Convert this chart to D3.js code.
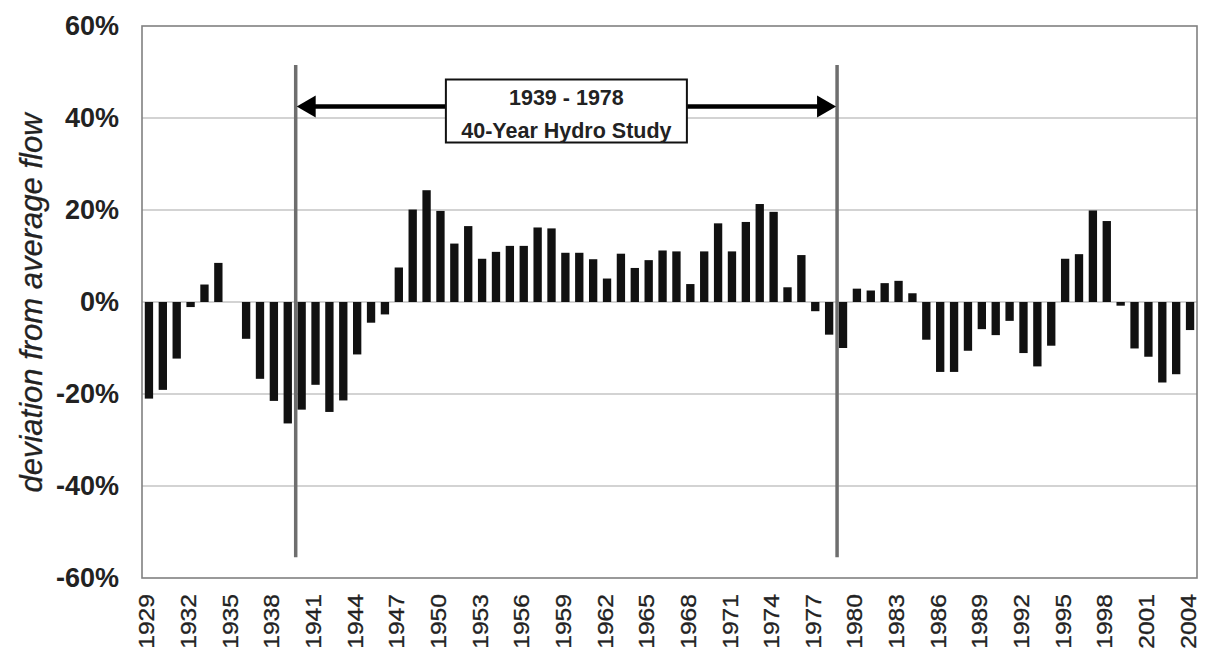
<!DOCTYPE html>
<html>
<head>
<meta charset="utf-8">
<script src="https://cdn.jsdelivr.net/npm/d3@7"></script>
<style>
  html, body { margin: 0; padding: 0; background: #ffffff; }
  svg { display: block; }
  text { font-family: "Liberation Sans", Arial, sans-serif; }
</style>
</head>
<body>
<script>
// ---------------- data ----------------
const years = [
  1929,1930,1931,1932,1933,1934,1935,1936,1937,1938,
  1939,1940,1941,1942,1943,1944,1945,1946,1947,1948,
  1949,1950,1951,1952,1953,1954,1955,1956,1957,1958,
  1959,1960,1961,1962,1963,1964,1965,1966,1967,1968,
  1969,1970,1971,1972,1973,1974,1975,1976,1977,1978,
  1979,1980,1981,1982,1983,1984,1985,1986,1987,1988,
  1989,1990,1991,1992,1993,1994,1995,1996,1997,1998,
  1999,2000,2001,2002,2003,2004
];
const deviation = [
  -21.0,-19.1,-12.3,-1.1,3.8,8.5,0,-8.0,-16.7,-21.5,
  -26.4,-23.4,-18.0,-23.9,-21.4,-11.4,-4.5,-2.7,7.5,20.1,
  24.3,19.8,12.7,16.5,9.4,10.9,12.2,12.2,16.2,16.0,
  10.7,10.7,9.3,5.1,10.5,7.4,9.1,11.2,11.0,3.9,
  11.0,17.1,11.0,17.4,21.3,19.6,3.2,10.2,-2.0,-7.1,
  -10.0,2.9,2.5,4.1,4.6,1.9,-8.2,-15.2,-15.2,-10.6,
  -5.9,-7.2,-4.1,-11.1,-14.0,-9.5,9.4,10.4,19.9,17.6,
  -0.8,-10.1,-11.9,-17.5,-15.7,-6.1
];
const xTickLabels = [1929,1932,1935,1938,1941,1944,1947,1950,1953,1956,1959,1962,1965,
                     1968,1971,1974,1977,1980,1983,1986,1989,1992,1995,1998,2001,2004];
const yTicks = [-60,-40,-20,0,20,40,60];
const gridValues = [-40,-20,0,20,40];
const studyStart = 1939, studyEnd = 1978;
const annotationLines = ["1939 - 1978", "40-Year Hydro Study"];
const yTitle = "deviation from average flow";

// ---------------- layout ----------------
const W = 1208, H = 666;
const plot = { left: 142, right: 1197, top: 26, bottom: 578 };

const svg = d3.select("body").append("svg").attr("width", W).attr("height", H);

const x = d3.scaleBand().domain(years.map(String))
  .range([plot.left, plot.right]).paddingInner(0.4).paddingOuter(0.2);
const y = d3.scaleLinear().domain([-60, 60]).range([plot.bottom, plot.top]);

// gridlines
svg.append("g").selectAll("line").data(gridValues).join("line")
  .attr("x1", plot.left).attr("x2", plot.right)
  .attr("y1", d => y(d)).attr("y2", d => y(d))
  .attr("stroke", "#a8a8a8").attr("stroke-width", 1.2);

// plot border
svg.append("rect")
  .attr("x", plot.left).attr("y", plot.top)
  .attr("width", plot.right - plot.left).attr("height", plot.bottom - plot.top)
  .attr("fill", "none").attr("stroke", "#808080").attr("stroke-width", 1.6);

// bars
const data = years.map((yr, i) => ({ year: String(yr), v: deviation[i] }));
svg.append("g").selectAll("rect").data(data).join("rect")
  .attr("x", d => x(d.year))
  .attr("width", x.bandwidth())
  .attr("y", d => y(Math.max(0, d.v)))
  .attr("height", d => Math.abs(y(d.v) - y(0)))
  .attr("fill", "#111");

// y tick labels
svg.append("g").selectAll("text").data(yTicks).join("text")
  .attr("x", 119).attr("y", d => y(d))
  .attr("text-anchor", "end").attr("dominant-baseline", "central")
  .attr("font-size", 27).attr("font-weight", "bold").attr("fill", "#222")
  .text(d => d + "%");

// y title
svg.append("text")
  .attr("transform", `translate(31,${(plot.top + plot.bottom) / 2 + 1}) rotate(-90)`)
  .attr("text-anchor", "middle").attr("dominant-baseline", "central")
  .attr("font-size", 31).attr("font-style", "italic").attr("fill", "#222")
  .attr("stroke", "#222").attr("stroke-width", 0.3)
  .text(yTitle);

// x tick labels
svg.append("g").selectAll("text").data(xTickLabels).join("text")
  .attr("transform", d => `translate(${x(String(d)) + x.bandwidth() / 2 - 2},594) rotate(-90) scale(1.12,1)`)
  .attr("text-anchor", "end").attr("dominant-baseline", "central")
  .attr("font-size", 22).attr("fill", "#222")
  .attr("stroke", "#222").attr("stroke-width", 0.3)
  .text(d => d);

// study period lines (right edge of the start and end year bands)
const gapHalf = (x.step() - x.bandwidth()) / 2;
const xL = x(String(studyStart)) + x.bandwidth() + gapHalf + 1;
const xR = x(String(studyEnd)) + x.bandwidth() + gapHalf + 1;
svg.append("g").selectAll("line").data([xL, xR]).join("line")
  .attr("x1", d => d).attr("x2", d => d)
  .attr("y1", y(51.5)).attr("y2", y(-55.5))
  .attr("stroke", "#6e6e6e").attr("stroke-width", 3.5);

// double arrow
const ay = y(42.5);
const headL = 19, headH = 11;
svg.append("line")
  .attr("x1", xL + headL - 2).attr("x2", xR - headL + 2)
  .attr("y1", ay).attr("y2", ay)
  .attr("stroke", "#000").attr("stroke-width", 4.5);
svg.append("path")
  .attr("d", `M${xL + 1},${ay} L${xL + 1 + headL},${ay - headH} L${xL + 1 + headL},${ay + headH} Z`)
  .attr("fill", "#000");
svg.append("path")
  .attr("d", `M${xR - 1},${ay} L${xR - 1 - headL},${ay - headH} L${xR - 1 - headL},${ay + headH} Z`)
  .attr("fill", "#000");

// annotation box
const bx = (xL + xR) / 2, bw = 241, bh = 63, bTop = ay - 27;
svg.append("rect")
  .attr("x", bx - bw / 2).attr("y", bTop).attr("width", bw).attr("height", bh)
  .attr("fill", "#fff").attr("stroke", "#111").attr("stroke-width", 2);
svg.append("g").selectAll("text").data(annotationLines).join("text")
  .attr("x", bx).attr("y", (d, i) => bTop + 25 + i * 33)
  .attr("text-anchor", "middle")
  .attr("font-size", 21.5).attr("font-weight", "bold").attr("fill", "#222")
  .text(d => d);
</script>
</body>
</html>
